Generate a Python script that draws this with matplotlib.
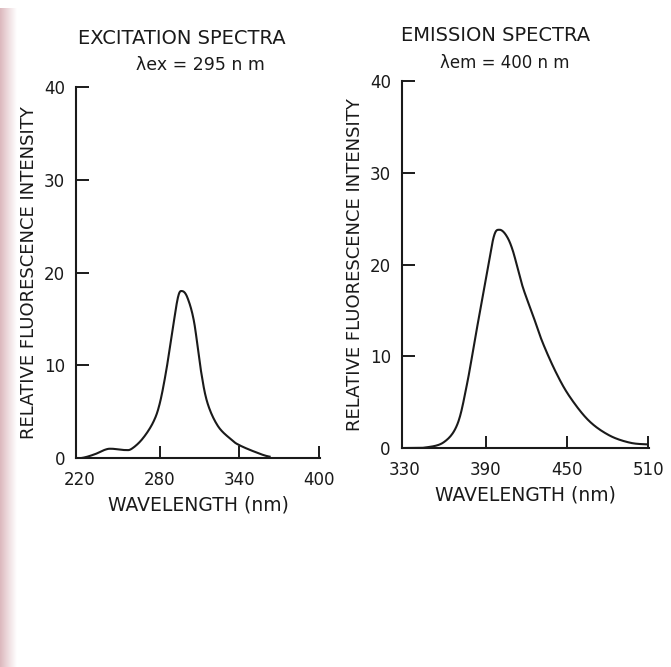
import numpy as np
import matplotlib
matplotlib.use("Agg")
import matplotlib.pyplot as plt

# Excitation spectrum
ex_wavelength = [221, 231, 239, 244, 254, 259, 267, 275, 280, 285, 290, 294, 297,
                 301, 306, 311, 316, 324, 334, 340, 352, 363]
ex_intensity = [0.0, 0.4, 0.9, 1.0, 0.86, 1.0, 2.05, 3.8, 5.8, 9.4, 14.0, 17.4, 18.0,
                17.3, 14.7, 9.6, 6.0, 3.45, 2.0, 1.4, 0.66, 0.15]

# Emission spectrum
em_wavelength = [330, 345, 359, 369, 376, 383, 391, 396, 400, 405, 410, 417, 425,
                 432, 442, 452, 466, 481, 496, 509]
em_intensity = [0.0, 0.05, 0.64, 2.6, 6.9, 12.7, 19.2, 23.1, 23.8, 23.2, 21.5, 17.7, 14.4,
                11.5, 8.2, 5.6, 3.0, 1.4, 0.6, 0.4]

yticks = [0, 10, 20, 30, 40]
ex_xticks = [220, 280, 340, 400]
em_xticks = [330, 390, 450, 510]

plt.rcParams["font.family"] = "DejaVu Sans"
ink = "#1a1a1a"

fig = plt.figure(figsize=(6.71, 6.67), dpi=100)

# pinkish scan edge on the left
strip = fig.add_axes([0, 0, 0.024, 0.988])
grad = np.linspace(0, 1, 50).reshape(1, -1)
strip.imshow(grad, aspect="auto", cmap=matplotlib.colors.LinearSegmentedColormap.from_list(
    "edge", ["#dcb8bd", "#efdde0", "#ffffff"]), extent=[0, 1, 0, 1])
strip.axis("off")


def smooth(x, y, n=20):
    # Catmull-Rom spline through the read points
    x = np.asarray(x, float)
    y = np.asarray(y, float)
    px = np.concatenate([[2 * x[0] - x[1]], x, [2 * x[-1] - x[-2]]])
    py = np.concatenate([[y[0]], y, [y[-1]]])
    xs, ys = [], []
    t = np.linspace(0, 1, n, endpoint=False)
    for i in range(1, len(px) - 2):
        for arr, out in ((px, xs), (py, ys)):
            p0, p1, p2, p3 = arr[i - 1], arr[i], arr[i + 1], arr[i + 2]
            out.extend(0.5 * (2 * p1 + (-p0 + p2) * t
                              + (2 * p0 - 5 * p1 + 4 * p2 - p3) * t ** 2
                              + (-p0 + 3 * p1 - 3 * p2 + p3) * t ** 3))
    xs.append(x[-1])
    ys.append(y[-1])
    return np.array(xs), np.clip(ys, 0, None)


def style(ax, xticks, xlim):
    ax.set_xlim(*xlim)
    ax.set_ylim(0, 40)
    for s in ["top", "right"]:
        ax.spines[s].set_visible(False)
    for s in ["left", "bottom"]:
        ax.spines[s].set_linewidth(1.5)
        ax.spines[s].set_color(ink)
    ax.set_yticks(yticks)
    ax.set_xticks(xticks)
    ax.tick_params(direction="in", length=9, width=1.4, color=ink,
                   labelsize=12, labelcolor=ink, pad=8)
    ax.tick_params(axis="x", pad=9)
    ax.set_ylabel("RELATIVE FLUORESCENCE INTENSITY", fontsize=13, color=ink, labelpad=4)
    ax.set_xlabel("WAVELENGTH (nm)", fontsize=13.5, color=ink, labelpad=5)


ax1 = fig.add_axes([0.1133, 0.3133, 0.3636, 0.5562])
xs, ys = smooth(ex_wavelength, ex_intensity)
ax1.plot(xs, ys, color=ink, lw=1.5)
style(ax1, ex_xticks, (217, 401))
ax1.xaxis.get_major_ticks()[0].tick1line.set_visible(False)

ax2 = fig.add_axes([0.599, 0.3283, 0.368, 0.550])
xs, ys = smooth(em_wavelength, em_intensity)
ax2.plot(xs, ys, color=ink, lw=1.5)
style(ax2, em_xticks, (328, 510.5))
ax2.xaxis.get_major_ticks()[0].tick1line.set_visible(False)

fig.text(0.271, 0.943, "EXCITATION SPECTRA", ha="center", va="center", fontsize=14, color=ink)
fig.text(0.298, 0.902, "λex = 295 n m", ha="center", va="center", fontsize=12.5, color=ink)
fig.text(0.738, 0.947, "EMISSION SPECTRA", ha="center", va="center", fontsize=14, color=ink)
fig.text(0.752, 0.905, "λem = 400 n m", ha="center", va="center", fontsize=12, color=ink)

fig.savefig("out.png", dpi=100)
